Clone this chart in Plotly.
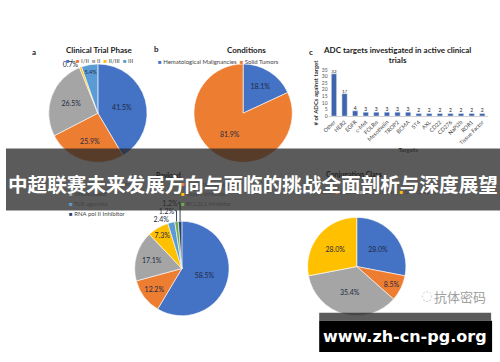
import plotly.graph_objects as go

W, H = 500, 362

# ---------------- data ----------------
phase_labels = ["I", "I/II", "II", "II/III", "III"]
phase_values = [41.5, 25.9, 26.5, 0.7, 5.4]

cond_labels = ["Hematological Malignancies", "Solid Tumors"]
cond_values = [18.1, 81.9]

target_labels = ["Other", "HER2", "EGFR", "c-Met", "FOLRα", "Mesothelin", "TROP2", "BCMA",
                 "5T4", "AXL", "CD22", "CD276", "NaPi2b", "ROR1", "Tissue Factor"]
target_values = [32, 17, 4, 3, 3, 3, 3, 3, 2, 2, 2, 2, 2, 2, 2]

payload_labels = ["Microtubule Inhibitor", "DNA damaging agent", "Undisclosed", "Topo I Inhibitor",
                  "TLR agonists", "BCL2L1 Inhibitor", "RNA pol II Inhibitor"]
payload_values = [58.5, 12.2, 17.1, 7.3, 2.4, 1.2, 1.2]

conj_labels = ["Cysteine", "Lysine", "Undisclosed", "Site-Specific"]
conj_values = [28.0, 8.5, 35.4, 28.0]

BLUE, ORANGE, GRAY, YELLOW, LBLUE, GREEN, DBLUE = (
    "#4472C4", "#ED7D31", "#A5A5A5", "#FFC000", "#5B9BD5", "#70AD47", "#264478")

FONT = "Lato, 'Open Sans', sans-serif"


def px_dom(x0, x1, y0, y1):
    return dict(x=[x0 / W, x1 / W], y=[1 - y1 / H, 1 - y0 / H])


def pct(vals):
    return [f"{v:.1f}%" for v in vals]


fig = go.Figure()

pie_common = dict(sort=False, direction="clockwise", rotation=0, showlegend=False,
                  textinfo="text", hoverinfo="skip",
                  textfont=dict(family=FONT, size=7, color="#1f2a44"),
                  insidetextorientation="horizontal")

# a - Clinical trial phase
fig.add_trace(go.Pie(values=phase_values, labels=phase_labels, text=pct(phase_values),
                     marker=dict(colors=[BLUE, ORANGE, GRAY, YELLOW, LBLUE],
                                 line=dict(color="white", width=0.6)),
                     textposition=["inside", "inside", "inside", "outside", "inside"],
                     domain=px_dom(43, 143, 62, 162), **pie_common))

# b - Conditions
fig.add_trace(go.Pie(values=cond_values, labels=cond_labels, text=pct(cond_values),
                     marker=dict(colors=[BLUE, ORANGE], line=dict(color="white", width=0.6)),
                     textposition="inside",
                     domain=px_dom(190, 290, 62, 162), **pie_common))

# d - Payload
fig.add_trace(go.Pie(values=payload_values, labels=payload_labels, text=pct(payload_values),
                     marker=dict(colors=[BLUE, ORANGE, GRAY, YELLOW, LBLUE, GREEN, DBLUE],
                                 line=dict(color="white", width=0.6)),
                     textposition=["inside", "inside", "inside", "inside", "outside", "outside", "outside"],
                     domain=px_dom(130, 226, 222, 318), **pie_common))

# e - Conjugation class
fig.add_trace(go.Pie(values=conj_values, labels=conj_labels, text=pct(conj_values),
                     marker=dict(colors=[BLUE, ORANGE, GRAY, YELLOW], line=dict(color="white", width=0.6)),
                     textposition="inside",
                     domain=px_dom(305, 405, 218, 318), **pie_common))

# c - bar chart
fig.add_trace(go.Bar(x=target_labels, y=target_values, marker=dict(color="#3F66AD"),
                     text=[str(v) for v in target_values], textposition="outside",
                     textfont=dict(family=FONT, size=5, color="#222"), cliponaxis=False,
                     showlegend=False, hoverinfo="skip"))

fig.update_layout(
    width=W, height=H, margin=dict(l=0, r=0, t=0, b=0),
    paper_bgcolor="white", plot_bgcolor="white",
    font=dict(family=FONT, color="#333"),
    bargap=0.5,
    xaxis=dict(domain=[326.6 / W, 487.4 / W], anchor="y", tickangle=-45,
               tickfont=dict(size=5.5, color="#444"), showline=True, linecolor="#d0d0d0",
               linewidth=0.5, ticks="",
               title=dict(text="<b>Targets</b>", font=dict(size=6, color="#333"), standoff=2)),
    yaxis=dict(domain=[1 - 115 / H, 1 - 68 / H], anchor="x", range=[0, 35], dtick=5,
               showgrid=False, zeroline=False, tickfont=dict(size=5, color="#555"),
               title=dict(text="<b># of ADCs against target</b>", font=dict(size=6, color="#333"),
                          standoff=2)),
)

ann = []


def A(text, x, y, size=7, color="#222", bold=False, xanchor="center", family=FONT):
    t = f"<b>{text}</b>" if bold else text
    ann.append(dict(text=t, x=x / W, y=1 - y / H, xref="paper", yref="paper", showarrow=False,
                    xanchor=xanchor, yanchor="middle", font=dict(size=size, color=color, family=family)))


def legend_html(items):
    return "  ".join(f"<span style='color:{c}'>■</span> {t}" for t, c in items)


# panel letters and titles
A("a", 28, 50, 8, bold=True)
A("b", 152, 47, 8, bold=True)
A("c", 309, 50, 8, bold=True)
A("Clinical Trial Phase", 94, 48, 8, bold=True)
A(legend_html(zip(phase_labels, [BLUE, ORANGE, GRAY, YELLOW, LBLUE])), 95, 58, 6, color="#444")
A("Conditions", 243, 48, 8, bold=True)
A(legend_html(zip(cond_labels, [BLUE, ORANGE])), 152, 59, 6, color="#444", xanchor="left")
A("ADC targets investigated in active clinical<br>trials", 396, 53, 8, bold=True)

# payload title + legend
A("Payload", 164, 175, 7, bold=True)
pay_cols = [BLUE, ORANGE, GRAY, YELLOW, LBLUE, GREEN, DBLUE]
col1 = [(0, 184), (2, 194), (4, 204), (6, 214)]
col2 = [(1, 184), (3, 194), (5, 204)]
for i, y in col1:
    A(f"<span style='color:{pay_cols[i]}'>■</span> {payload_labels[i]}", 62, y, 6, color="#444", xanchor="left")
for i, y in col2:
    A(f"<span style='color:{pay_cols[i]}'>■</span> {payload_labels[i]}", 175, y, 6, color="#444", xanchor="left")

# conjugation title + legend
A("Conjugation Class", 352, 174, 7, bold=True)
A(legend_html(zip(conj_labels, [BLUE, ORANGE, GRAY, YELLOW])), 300, 192, 6, color="#444", xanchor="left")

# watermark
A("抗体密码", 460, 298, 13, color="#a0a0a0", family="Noto Sans CJK SC")
A("◌", 426, 297, 13, color="#c8c8c8", family="DejaVu Sans")

# banner
shapes = [
    dict(type="rect", xref="paper", yref="paper", x0=0, x1=1, y0=1 - 211 / H, y1=1 - 148 / H,
         fillcolor="rgba(40,40,40,0.76)", line=dict(width=0), layer="above"),
    dict(type="rect", xref="paper", yref="paper", x0=317 / W, x1=491 / W, y0=1 - 323 / H, y1=1 - 315 / H,
         fillcolor="rgba(40,40,40,0.76)", line=dict(width=0), layer="above"),
    dict(type="rect", xref="paper", yref="paper", x0=317 / W, x1=492 / W, y0=1 - 355 / H, y1=1 - 323 / H,
         fillcolor="black", line=dict(width=0), layer="above"),
]
fig.update_layout(shapes=shapes)

A("中超联赛未来发展方向与面临的挑战全面剖析与深度展望", 250, 184, 19.6, color="white", bold=True,
  family="Noto Sans CJK SC")
A("www.zh-cn-pg.org", 404, 339, 16, color="white", bold=True, family="DejaVu Sans")

fig.update_layout(annotations=ann)
fig.write_html("out.html", config={"displayModeBar": False},
               post_script="document.body.style.margin='0';document.body.style.overflow='hidden';")
